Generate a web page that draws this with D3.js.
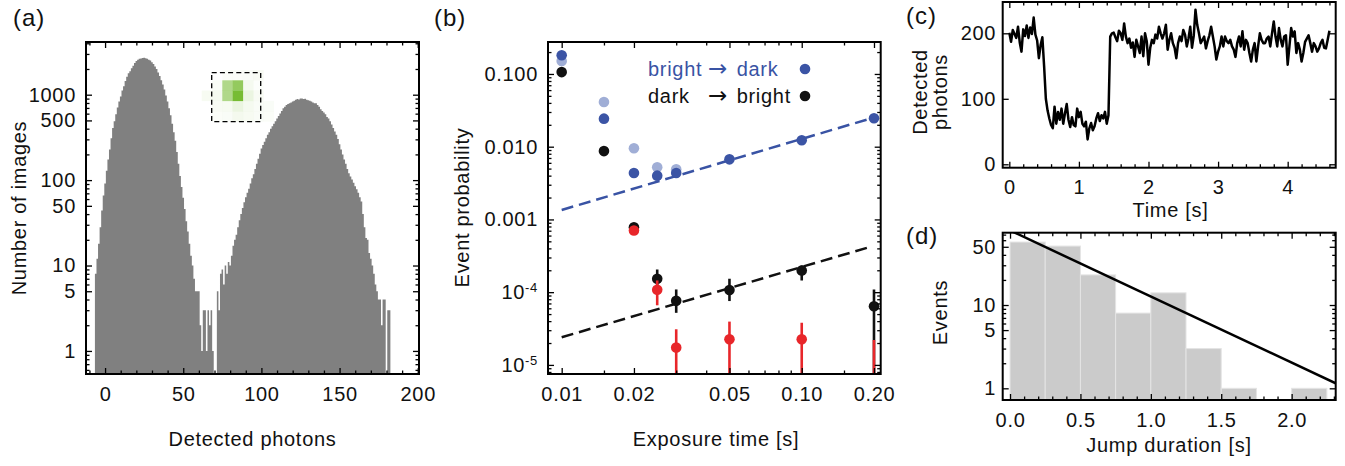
<!DOCTYPE html>
<html><head><meta charset="utf-8">
<script src="https://cdn.jsdelivr.net/npm/d3@7"></script>
<style>
body{margin:0;background:#fff;}
svg text{font-family:"Liberation Sans",Arial,Helvetica,sans-serif;font-size:20px;letter-spacing:0.7px;fill:#111;}
svg text.plabel{font-size:24px;letter-spacing:1px;}
svg text.arrow{font-family:"DejaVu Sans",sans-serif;font-size:23px;letter-spacing:0;}
</style></head><body>
<svg id="fig" width="1345" height="466"></svg>
<script>
// ---------------- DATA ----------------
// (a) histogram of detected photons (one bin per photon count, starting at histStart)
const histStart = -6;
const histCounts = [
  8, 12, 18, 28, 44, 66,
  91, 129, 174, 229, 309, 407, 490, 589, 708, 832,
  955, 1122, 1259, 1445, 1622, 1778, 1880, 2042, 2188, 2344,
  2480, 2570, 2630, 2660, 2692, 2700, 2680, 2640, 2570, 2512,
  2399, 2291, 2138, 1995, 1820, 1660, 1479, 1318, 1148, 977,
  832, 692, 575, 457, 363, 288, 214, 155, 112, 83,
  62, 46, 33, 25, 18, 13, 10, 7, 5, 5,
  5, 2, 1, 3, 3, 1, 3, 2, 3, 1,
  0, 0, 5, 3, 8, 9, 6, 10, 8, 11,
  10, 13, 17, 20, 23, 28, 34, 40, 47, 55,
  63, 71, 79, 91, 105, 117, 135, 155, 178, 204,
  234, 257, 282, 309, 339, 363, 398, 427, 457, 490,
  525, 562, 603, 646, 692, 724, 759, 776, 794, 813,
  832, 851, 871, 891, 880, 902, 902, 891, 895, 871,
  861, 851, 832, 813, 794, 794, 759, 724, 676, 646,
  617, 589, 550, 525, 490, 447, 407, 372, 339, 302,
  263, 229, 200, 174, 155, 135, 120, 110, 102, 93,
  85, 78, 71, 63, 56, 40, 28, 21, 20, 14,
  12, 10, 8, 6, 5, 4, 4, 2, 4, 4,
  0, 3, 3
];
// (a) inset camera image (green intensity per pixel)
const insetPixels = [
  [0, 0, 0.03, 0.03, 0.04, 0.05, 0],
  [0, 0.04, 0.55, 0.75, 0.07, 0.02, 0],
  [0.06, 0.07, 0.55, 0.95, 0.14, 0.05, 0],
  [0, 0.05, 0.06, 0.14, 0.07, 0.04, 0.04],
  [0, 0.03, 0.04, 0.08, 0.06, 0.04, 0.03]
];

// (b) event probabilities vs exposure time
const expLightT = [0.01, 0.015, 0.02, 0.025, 0.03];
const bdLight   = [0.151, 0.0412, 0.0095, 0.0052, 0.0049];
const expT      = [0.01, 0.015, 0.02, 0.025, 0.03, 0.05, 0.10, 0.20];
const bdDark    = [0.181, 0.0243, 0.00435, 0.0040, 0.00435, 0.0067, 0.01225, 0.0246];
const dbBlack   = [0.106, 0.0087, 0.00078, 1.53e-4, 7.6e-5, 1.07e-4, 1.99e-4, 6.4e-5];
const dbBlackLo = [null, null, null, 1.15e-4, 5.2e-5, 7.55e-5, 1.45e-4, 1e-6];
const dbBlackHi = [null, null, null, 2.05e-4, 1.09e-4, 1.53e-4, 2.33e-4, 1.09e-4];
const expRedT   = [0.02, 0.025, 0.03, 0.05, 0.10, 0.20];
const dbRed     = [7.06e-4, 1.08e-4, 1.73e-5, 2.25e-5, 2.25e-5, 3e-6];
const dbRedLo   = [null, 6.6e-5, 1e-6, 1e-6, 1e-6, 1e-6];
const dbRedHi   = [null, 1.45e-4, 3.09e-5, 3.94e-5, 3.8e-5, 2.2e-5];
const bdFitT = [0.01, 0.205], bdFitP = [0.00135, 0.0258];
const dbFitT = [0.01, 0.187], dbFitP = [2.4e-5, 4.07e-4];
const legendLabels = [["bright", "\u2192", "dark"], ["dark", "\u2192", "bright"]];

// (c) fluorescence trace
const traceStep = 0.025;
const traceValues = [
  201, 187, 205, 199, 193, 210, 186, 172, 206, 196, 212, 193, 209, 199, 224, 198, 189, 162, 182, 194,
  150, 100, 82, 70, 60, 55, 88, 62, 80, 68, 85, 62, 78, 92, 68, 57, 72, 60, 58, 85,
  72, 80, 62, 58, 65, 38, 55, 63, 52, 58, 70, 78, 66, 75, 70, 80, 62, 75,
  195, 200, 201, 194, 188, 204, 200, 190, 215, 195, 185, 192, 178, 186, 164, 190, 180, 170, 195, 165,
  200, 188, 152, 178, 190, 185, 198, 192, 210, 200, 192, 200, 213, 175, 190, 200, 185, 178, 162, 185,
  195, 188, 205, 198, 180, 192, 210, 178, 196, 236, 213, 200, 185, 190, 195, 177, 188, 197, 210, 195,
  180, 160, 172, 180, 195, 180, 195, 188, 185, 190, 180, 175, 164, 185, 195, 180, 203, 175, 190, 185,
  170, 157, 175, 185, 157, 180, 200, 190, 185, 185, 192, 195, 180, 200, 218, 195, 180, 208, 190, 180,
  195, 197, 152, 180, 208, 195, 203, 170, 185, 175, 157, 170, 187, 192, 197, 185, 172, 185, 180, 172,
  177, 185, 190, 178, 177, 190, 204
];

// (d) jump duration histogram
const jumpBinStart = [0, 0.25, 0.5, 0.75, 1.0, 1.25, 1.5, 1.75, 2.0];
const jumpBinWidth = 0.25;
const jumpCounts = [57, 51, 23, 8, 14, 3, 1, 0, 1];
const jumpFitX = [0, 2.313], jumpFitN = [78.6, 1.148];

// tick values / labels
const aXMajor = [0, 50, 100, 150, 200];
const aXMinor = [-10,10,20,30,40,60,70,80,90,110,120,130,140,160,170,180,190];
const aYMajor = [1, 5, 10, 50, 100, 500, 1000];
const aYMinor = [0.6,0.7,0.8,0.9,2,3,4,6,7,8,9,20,30,40,60,70,80,90,200,300,400,600,700,800,900,2000,3000,4000];
const bXMajor = [0.01, 0.02, 0.05, 0.1, 0.2];
const bXLabels = ["0.01", "0.02", "0.05", "0.10", "0.20"];
const bXMinor = [0.015, 0.03, 0.04, 0.06, 0.07, 0.08, 0.09, 0.15];
const bYMajor = [1e-5, 1e-4, 1e-3, 1e-2, 1e-1];
const bYLabels = [["10","-5"], ["10","-4"], ["0.001",""], ["0.010",""], ["0.100",""]];
const bYMinor = [8e-6,9e-6,2e-5,3e-5,4e-5,5e-5,6e-5,7e-5,8e-5,9e-5,2e-4,3e-4,4e-4,5e-4,6e-4,7e-4,8e-4,9e-4,
  2e-3,3e-3,4e-3,5e-3,6e-3,7e-3,8e-3,9e-3,0.02,0.03,0.04,0.05,0.06,0.07,0.08,0.09,0.2];
const cXMajor = [0, 1, 2, 3, 4];
const cXMinor = [0.2,0.4,0.6,0.8,1.2,1.4,1.6,1.8,2.2,2.4,2.6,2.8,3.2,3.4,3.6,3.8,4.2,4.4,4.6];
const cYMajor = [0, 100, 200];
const dXMajor = [0, 0.5, 1.0, 1.5, 2.0];
const dXLabels = ["0.0", "0.5", "1.0", "1.5", "2.0"];
const dXMinor = [0.1,0.2,0.3,0.4,0.6,0.7,0.8,0.9,1.1,1.2,1.3,1.4,1.6,1.7,1.8,1.9,2.1,2.2,2.3];
const dYMajor = [1, 5, 10, 50];
const dYMinor = [2,3,4,6,7,8,9,20,30,40,60,70];

// ---------------- LAYOUT ----------------
const PA = {x:86,     y:42,    w:333, h:332};
const PB = {x:548,    y:42,    w:332.7, h:332};
const PC = {x:1002.7, y:2,     w:333, h:165.7};
const PD = {x:1002.7, y:232.7, w:333, h:167.3};

const svg = d3.select("#fig");
const defs = svg.append("defs");

function makePanel(P, id) {
  defs.append("clipPath").attr("id", id).append("rect").attr("width", P.w).attr("height", P.h);
  const g = svg.append("g").attr("transform", `translate(${P.x},${P.y})`);
  const plot = g.append("g").attr("clip-path", `url(#${id})`);
  return {g, plot};
}

function axes(g, P, sx, sy, s) {
  const none = () => "";
  const mk = (fn, scale, vals, len, fmt, tr, pad) => {
    const a = fn(scale).tickValues(vals).tickSizeInner(-len).tickSizeOuter(0).tickPadding(pad).tickFormat(fmt);
    const sel = g.append("g").attr("transform", tr).call(a);
    sel.select(".domain").remove();
    sel.selectAll("line").attr("stroke", "#000").attr("stroke-width", 1.3);
    if (fmt === none) sel.selectAll("text").remove();
    return sel;
  };
  const T = 6, t = 3.5;
  const xl = mk(d3.axisBottom, sx, s.xMajor, T, s.xFmt, `translate(0,${P.h})`, s.xPad);
  mk(d3.axisBottom, sx, s.xMinor, t, none, `translate(0,${P.h})`, 0);
  mk(d3.axisTop, sx, s.xMajor, T, none, `translate(0,0)`, 0);
  mk(d3.axisTop, sx, s.xMinor, t, none, `translate(0,0)`, 0);
  const yl = mk(d3.axisLeft, sy, s.yMajor, T, s.yFmt, `translate(0,0)`, s.yPad);
  if (s.yMinor) mk(d3.axisLeft, sy, s.yMinor, t, none, `translate(0,0)`, 0);
  mk(d3.axisRight, sy, s.yMajor, T, none, `translate(${P.w},0)`, 0);
  if (s.yMinor) mk(d3.axisRight, sy, s.yMinor, t, none, `translate(${P.w},0)`, 0);
  g.append("rect").attr("width", P.w).attr("height", P.h)
    .attr("fill", "none").attr("stroke", "#000").attr("stroke-width", 2);
  return {xl, yl};
}

function label(txt, x, y, cls) {
  return svg.append("text").attr("x", x).attr("y", y).attr("class", cls || null).text(txt);
}
function vlabel(lines, x, y, gap) {
  const t = svg.append("text").attr("text-anchor", "middle")
    .attr("transform", `translate(${x},${y}) rotate(-90)`);
  lines.forEach((l, i) => t.append("tspan").attr("x", 0).attr("y", i * gap).text(l));
  return t;
}

// ---------------- PANEL (a) ----------------
{
  const {g, plot} = makePanel(PA, "clipA");
  const x = d3.scaleLinear().domain([-12.2, 200.8]).range([0, PA.w]);
  const y = d3.scaleLog().domain([0.537, 4140]).range([PA.h, 0]);
  const pts = histCounts.map((c, i) => ({x: histStart + i - 0.5, c}));
  pts.push({x: histStart + histCounts.length - 0.5, c: 0});
  const area = d3.area().curve(d3.curveStepAfter)
    .x(d => x(d.x)).y0(PA.h).y1(d => d.c > 0 ? y(d.c) : PA.h);
  plot.append("path").datum(pts).attr("d", area).attr("fill", "#808080");

  // inset image
  const cell = 10.3, ix0 = 201.7 - PA.x, iy0 = 70 - PA.y;
  insetPixels.forEach((row, r) => row.forEach((v, c) => {
    if (v > 0) plot.append("rect").attr("x", ix0 + c * cell).attr("y", iy0 + r * cell)
      .attr("width", cell + 0.2).attr("height", cell + 0.2)
      .attr("fill", "rgb(112,184,40)").attr("fill-opacity", v);
  }));
  plot.append("rect").attr("x", 211.7 - PA.x).attr("y", 72.7 - PA.y).attr("width", 49).attr("height", 49)
    .attr("fill", "none").attr("stroke", "#000").attr("stroke-width", 1.3).attr("stroke-dasharray", "5,3.2");

  axes(g, PA, x, y, {xMajor: aXMajor, xMinor: aXMinor, xFmt: d => String(d), xPad: 12.5,
    yMajor: aYMajor, yMinor: aYMinor, yFmt: d => String(d), yPad: 10});
  label("(a)", 13, 26, "plabel");
  label("Detected photons", 252.5, 446).attr("text-anchor", "middle");
  vlabel(["Number of images"], 26, 208, 0);
}

// ---------------- PANEL (b) ----------------
{
  const {g, plot} = makePanel(PB, "clipB");
  const x = d3.scaleLog().domain([0.00877, 0.2133]).range([0, PB.w]);
  const y = d3.scaleLog().domain([7.5e-6, 0.275]).range([PB.h, 0]);
  const line = d3.line().x(d => x(d[0])).y(d => y(d[1]));
  plot.append("path").datum(d3.zip(bdFitT, bdFitP)).attr("d", line)
    .attr("fill", "none").attr("stroke", "#3953a4").attr("stroke-width", 2.5).attr("stroke-dasharray", "12,6");
  plot.append("path").datum(d3.zip(dbFitT, dbFitP)).attr("d", line)
    .attr("fill", "none").attr("stroke", "#111").attr("stroke-width", 2.5).attr("stroke-dasharray", "12,6");
  const R = 5.3;
  const dots = (ts, vs, col) => ts.forEach((t, i) =>
    plot.append("circle").attr("cx", x(t)).attr("cy", y(vs[i])).attr("r", R).attr("fill", col));
  const bars = (ts, lo, hi, col) => ts.forEach((t, i) => {
    if (lo[i] == null) return;
    plot.append("line").attr("x1", x(t)).attr("x2", x(t)).attr("y1", y(lo[i])).attr("y2", y(hi[i]))
      .attr("stroke", col).attr("stroke-width", 2.6);
  });
  dots(expLightT, bdLight, "#a0aed6");
  dots(expT, bdDark, "#3b54a5");
  bars(expT, dbBlackLo, dbBlackHi, "#111");
  dots(expT, dbBlack, "#111");
  bars(expRedT, dbRedLo, dbRedHi, "#e8262a");
  dots(expRedT, dbRed, "#e8262a");

  const ax = axes(g, PB, x, y, {xMajor: bXMajor, xMinor: bXMinor, xFmt: (d, i) => bXLabels[i], xPad: 12.5,
    yMajor: bYMajor, yMinor: bYMinor, yFmt: (d, i) => bYLabels[i][0], yPad: 10});
  ax.yl.selectAll("text").each(function(d, i) {
    const sup = bYLabels[i][1];
    if (sup) d3.select(this).append("tspan").attr("dy", "-0.55em").style("font-size", "13px").text(sup);
  });

  // legend
  const lg = svg.append("g");
  const cols = [648, 708, 736.7];
  const rowsY = [76, 103];
  const colors = ["#3953a4", "#111"];
  legendLabels.forEach((row, r) => {
    row.forEach((s, c) => lg.append("text").attr("x", cols[c]).attr("y", rowsY[r])
      .attr("class", c === 1 ? "arrow" : null).style("fill", colors[r]).text(s));
    lg.append("circle").attr("cx", 805).attr("cy", rowsY[r] - 7).attr("r", R)
      .attr("fill", r === 0 ? "#3b54a5" : "#111");
  });

  label("(b)", 434, 26, "plabel");
  label("Exposure time [s]", 716, 446).attr("text-anchor", "middle");
  vlabel(["Event probability"], 468.5, 207.5, 0);
}

// ---------------- PANEL (c) ----------------
{
  const {g, plot} = makePanel(PC, "clipC");
  const x = d3.scaleLinear().domain([-0.095, 4.69]).range([0, PC.w]);
  const y = d3.scaleLinear().domain([-5.2, 247.8]).range([PC.h, 0]);
  const line = d3.line().x((d, i) => x(i * traceStep)).y(d => y(d));
  plot.append("path").datum(traceValues).attr("d", line)
    .attr("fill", "none").attr("stroke", "#000").attr("stroke-width", 2.5).attr("stroke-linejoin", "round");
  axes(g, PC, x, y, {xMajor: cXMajor, xMinor: cXMinor, xFmt: d => String(d), xPad: 12,
    yMajor: cYMajor, yMinor: null, yFmt: d => String(d), yPad: 6.5});
  label("(c)", 906, 24, "plabel");
  label("Time [s]", 1170.5, 216.5).attr("text-anchor", "middle");
  vlabel(["Detected", "photons"], 926.7, 92, 20);
}

// ---------------- PANEL (d) ----------------
{
  const {g, plot} = makePanel(PD, "clipD");
  const x = d3.scaleLinear().domain([-0.052, 2.313]).range([0, PD.w]);
  const y = d3.scaleLog().domain([0.724, 73.8]).range([PD.h, 0]);
  jumpBinStart.forEach((b, i) => {
    if (jumpCounts[i] <= 0) return;
    plot.append("rect").attr("x", x(b)).attr("width", x(b + jumpBinWidth) - x(b))
      .attr("y", y(jumpCounts[i])).attr("height", PD.h - y(jumpCounts[i]) + 2)
      .attr("fill", "#cbcbcb").attr("stroke", "#e4e4e4").attr("stroke-width", 1);
  });
  plot.append("path").datum(d3.zip(jumpFitX, jumpFitN))
    .attr("d", d3.line().x(d => x(d[0])).y(d => y(d[1])))
    .attr("fill", "none").attr("stroke", "#000").attr("stroke-width", 2.5);
  axes(g, PD, x, y, {xMajor: dXMajor, xMinor: dXMinor, xFmt: (d, i) => dXLabels[i], xPad: 12.5,
    yMajor: dYMajor, yMinor: dYMinor, yFmt: d => String(d), yPad: 6.5});
  label("(d)", 906, 244, "plabel");
  label("Jump duration [s]", 1169, 452).attr("text-anchor", "middle");
  vlabel(["Events"], 947.3, 312.5, 0);
}
</script>
</body></html>
